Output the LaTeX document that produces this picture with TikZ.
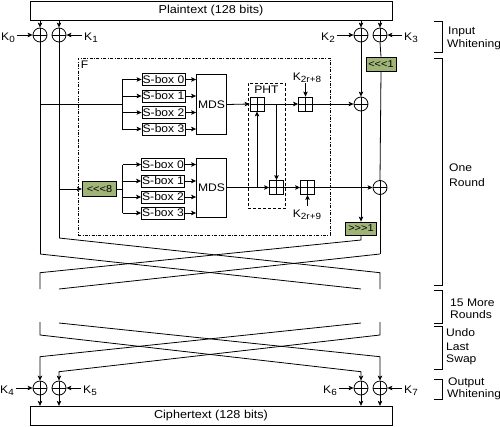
\documentclass[tikz,border=0pt]{standalone}
\usepackage{fontspec}
\setmainfont{Liberation Sans}[FakeStretch=1.1]
\usetikzlibrary{arrows.meta}
\definecolor{rotg}{RGB}{160,180,120}
\newcommand{\ksub}[1]{\raisebox{-2.5pt}{\fontsize{9}{9}\selectfont #1}}
\begin{document}
\begin{tikzpicture}[x=1pt,y=-1pt]
\tikzset{
 ln/.style={line width=0.8pt},
 arr/.style={ln, -{Stealth[length=5pt,width=4.5pt,inset=1.2pt]}},
 txt/.style={font=\fontsize{11}{13}\selectfont, inner sep=0pt},
 plusmark/.style={path picture={\draw[ln] (path picture bounding box.north) -- (path picture bounding box.south) (path picture bounding box.west) -- (path picture bounding box.east);}},
 xor/.style={circle, draw, ln, minimum size=14pt, inner sep=0pt, plusmark},
 adder/.style={rectangle, draw, ln, minimum size=14pt, inner sep=0pt, plusmark},
 sbox/.style={draw, ln, minimum width=43pt, minimum height=12pt, inner sep=0pt, txt},
 mds/.style={draw, ln, minimum width=30pt, minimum height=60pt, inner sep=0pt, txt},
 gbox/.style={draw, ln, fill=rotg, inner sep=0pt, font=\fontsize{10}{12}\selectfont},
 bigbox/.style={draw, ln, minimum width=362pt, minimum height=19pt, inner sep=0pt, font=\fontsize{11.5}{13}\selectfont},
 fdash/.style={draw, ln, dash pattern=on 3pt off 1.5pt on 0.8pt off 1.5pt, minimum width=252pt, minimum height=177pt, inner sep=0pt},
 phtdash/.style={draw, ln, dash pattern=on 3pt off 2pt, minimum width=37.5pt, minimum height=125pt, inner sep=0pt},
 lab/.style={txt},
}
\useasboundingbox (0,0) rectangle (500,426);

% plaintext / ciphertext
\node[bigbox] (pt) at (211,10.5) {Plaintext (128 bits)};
\node[bigbox] (ct) at (211,415.75) {Ciphertext (128 bits)};

% input whitening
\node[xor] (x1) at (40,35) {};
\node[xor] (x2) at (59,35) {};
\node[xor] (x3) at (361,35) {};
\node[xor] (x4) at (380,35) {};
\foreach \n in {x1,x2,x3,x4} \draw[arr] (pt.south -| \n) -- (\n.north);
\node[lab, anchor=base] (k0) at (8,40) {K\ksub{0}};
\node[lab, anchor=base] (k1) at (91,40) {K\ksub{1}};
\node[lab, anchor=base] (k2) at (328,40) {K\ksub{2}};
\node[lab, anchor=base] (k3) at (411,40) {K\ksub{3}};
\draw[arr] (k0.east |- x1) ++(2,0) -- (x1.west);
\draw[arr] (k1.west |- x2) ++(-2,0) -- (x2.east);
\draw[arr] (k2.east |- x3) ++(2,0) -- (x3.west);
\draw[arr] (k3.west |- x4) ++(-2,0) -- (x4.east);

% F function
\node[fdash] (F) at (204,146.5) {};
\node[lab, anchor=north west] (Fl) at ([xshift=3pt,yshift=-3pt]F.north west) {F};

% top g
\node[sbox] (s10) at (163.5,79.5) {S-box 0};
\node[sbox] (s11) at (163.5,96) {S-box 1};
\node[sbox] (s12) at (163.5,112.5) {S-box 2};
\node[sbox] (s13) at (163.5,129) {S-box 3};
\node[mds] (m1) at (211.5,104.5) {MDS};
\coordinate (b1) at (122,104);
\draw[ln] (b1 |- s10) -- (b1 |- s13);
\foreach \s in {s10,s11,s12,s13} {
  \draw[arr] (b1 |- \s) -- (\s.west);
  \draw[arr] (\s.east) -- (\s.east -| m1.west);
}

% bottom g
\node[gbox, minimum width=34.5pt, minimum height=14.5pt] (r8) at (99.5,189) {<{}<{}<{}8};
\node[sbox] (s20) at (163,164.5) {S-box 0};
\node[sbox] (s21) at (163,181) {S-box 1};
\node[sbox] (s22) at (163,197) {S-box 2};
\node[sbox] (s23) at (163,213) {S-box 3};
\node[mds, minimum height=59pt] (m2) at (211.5,187.5) {MDS};
\coordinate (b2) at (122.7,189);
\draw[ln] (b2 |- s20) -- (b2 |- s23);
\draw[ln] (r8.east) -- (b2);
\foreach \s in {s20,s21,s22,s23} {
  \draw[arr] (b2 |- \s) -- (\s.west);
  \draw[arr] (\s.east) -- (\s.east -| m2.west);
}

% PHT
\node[phtdash] (pht) at (266.75,145.5) {};
\node[lab, anchor=base] (phtl) at (266.5,93.5) {PHT};
\node[adder] (a1) at (257,104) {};
\node[adder] (a2) at (276.5,187.5) {};
\node[adder] (a3) at (305.5,104) {};
\node[adder] (a4) at (307.5,187.5) {};
\node[lab, anchor=base] (k8) at (307,80) {K\ksub{2r+8}};
\node[lab, anchor=base] (k9) at (307,217) {K\ksub{2r+9}};
\coordinate (k8e) at (305.5,83);
\coordinate (k9e) at (307.5,206);
\draw[arr] (k8e) -- (a3.north);
\draw[arr] (k9e) -- (a4.south);

\node[xor] (x5) at (361,104) {};
\node[xor] (x6) at (380,187.5) {};
\node[gbox, minimum width=30pt, minimum height=14pt] (r1) at (381,64) {<{}<{}<{}1};
\node[gbox, minimum width=31pt, minimum height=13pt] (r9) at (361,228.5) {>{}>{}>{}1};

\draw[arr] (m1.east) -- (a1.west);
\draw[arr] (a1.east) -- (a3.west);
\draw[arr] (a3.east) -- (x5.west);
\draw[arr] (m2.east) -- (a2.west);
\draw[arr] (a2.east) -- (a4.west);
\draw[arr] (a4.east) -- (x6.west);
\draw[arr] (a1 |- m2.east) -- (a1.south);
\draw[arr] (a2 |- a1) -- (a2.north);

% main verticals
\coordinate (p40) at (40,254);
\coordinate (p59) at (59,238);
\coordinate (p361) at (361,240);
\coordinate (p380) at (380,254);
\draw[ln] (x1.south) -- (p40);
\draw[ln] (x1 |- b1) -- (b1);
\draw[ln] (x2.south) -- (p59);
\draw[arr] (x2 |- r8) -- (r8.west);
\draw[arr] (x3.south) -- (x5.north);
\draw[arr] (x5.south) -- (r9.north);
\draw[ln] (x4.south) -- (r1.north);
\draw[ln] (r1.south) -- (x6.north);
\draw[ln] (x6.south) -- (p380);

% round swap
\coordinate (q40) at (40,272.7);
\coordinate (q380) at (380,272.7);
\coordinate (e40) at (40,289);
\coordinate (e59) at (59,289);
\coordinate (e361) at (361,289);
\coordinate (e380) at (380,289);
\draw[ln] (r9.south) -- (p361) -- (q40) -- (e40);
\draw[ln] (p59) -- (q380) -- (e380);
\draw[ln] (p40) -- (e361);
\draw[ln] (p380) -- (e59);

% undo last swap
\coordinate (u40) at (40,322);
\coordinate (u59) at (59,323);
\coordinate (u361) at (361,323);
\coordinate (u380) at (380,322);
\coordinate (v40) at (40,335);
\coordinate (v380) at (380,335);
\coordinate (w40) at (40,356.7);
\coordinate (w380) at (380,356.7);
\coordinate (w59) at (59,371.7);
\coordinate (w361) at (361,371.7);

% output whitening
\node[xor] (y1) at (40,388) {};
\node[xor] (y2) at (59,388) {};
\node[xor] (y3) at (361,388) {};
\node[xor] (y4) at (380,388) {};
\draw[arr] (u59) -- (w380) -- (y4.north);
\draw[arr] (u361) -- (w40) -- (y1.north);
\draw[arr] (u40) -- (v40) -- (w361) -- (y3.north);
\draw[arr] (u380) -- (v380) -- (w59) -- (y2.north);
\foreach \n in {y1,y2,y3,y4} \draw[arr] (\n.south) -- (ct.north -| \n);
\node[lab, anchor=base] (k4) at (7,393) {K\ksub{4}};
\node[lab, anchor=base] (k5) at (90,393) {K\ksub{5}};
\node[lab, anchor=base] (k6) at (330,393) {K\ksub{6}};
\node[lab, anchor=base] (k7) at (411,393) {K\ksub{7}};
\draw[arr] (k4.east |- y1) ++(2,0) -- (y1.west);
\draw[arr] (k5.west |- y2) ++(-2,0) -- (y2.east);
\draw[arr] (k6.east |- y3) ++(2,0) -- (y3.west);
\draw[arr] (k7.west |- y4) ++(-2,0) -- (y4.east);

% brackets and labels
\draw[ln] (434,21) -- (442,21) -- (442,52) -- (434,52);
\draw[ln] (434,58) -- (442,58) -- (442,285) -- (434,285);
\draw[ln] (434,290) -- (442,290) -- (442,323) -- (434,323);
\draw[ln] (434,326) -- (442,326) -- (442,369) -- (434,369);
\draw[ln] (434,379) -- (442,379) -- (442,399) -- (434,399);
\node[lab, anchor=base west] (t1) at (448,34.5) {Input};
\node[lab, anchor=base west] (t2) at (447,47) {Whitening};
\node[lab, anchor=base west] (t3) at (449,171) {One};
\node[lab, anchor=base west] (t4) at (449,186) {Round};
\node[lab, anchor=base west] (t5) at (450,306) {15 More};
\node[lab, anchor=base west] (t6) at (450,318) {Rounds};
\node[lab, anchor=base west] (t7) at (446,336.5) {Undo};
\node[lab, anchor=base west] (t8) at (446,350) {Last};
\node[lab, anchor=base west] (t9) at (446,362) {Swap};
\node[lab, anchor=base west] (t10) at (448,385) {Output};
\node[lab, anchor=base west] (t11) at (447,397.5) {Whitening};
\end{tikzpicture}
\end{document}
